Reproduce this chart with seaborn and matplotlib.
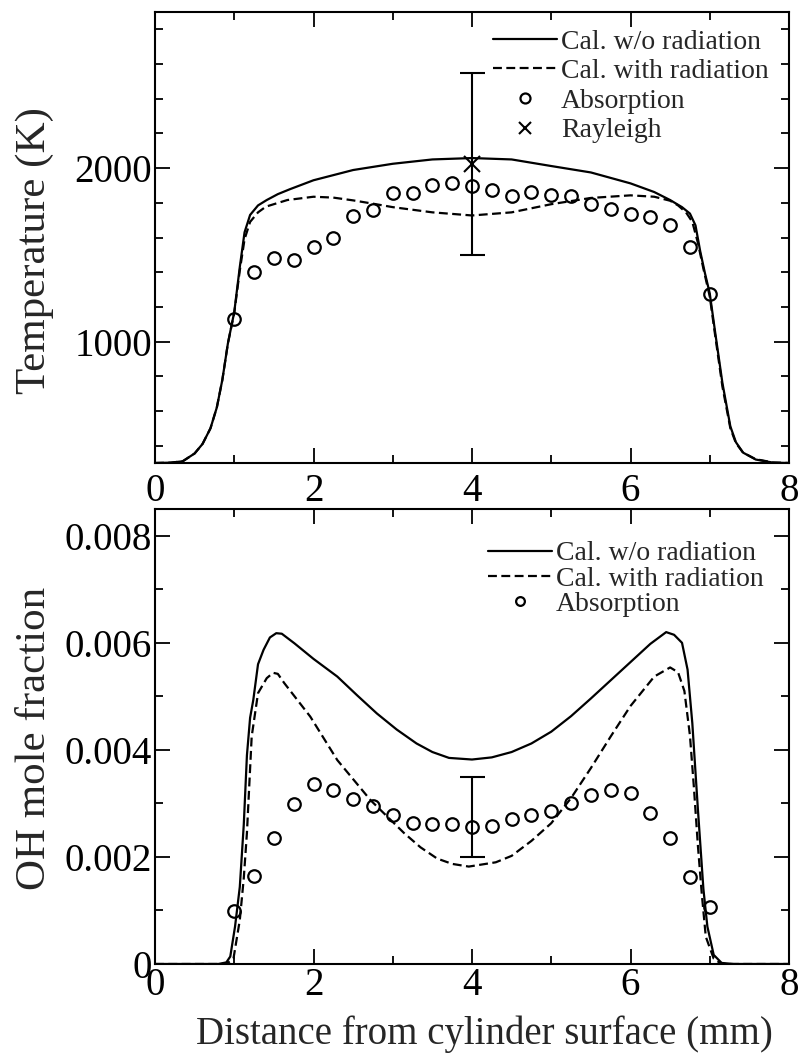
import numpy as np
import matplotlib
matplotlib.use("Agg")
import matplotlib.pyplot as plt
from matplotlib.ticker import MultipleLocator, FixedLocator
import seaborn as sns

# ---- Temperature profiles (K) vs distance from cylinder surface (mm) ----
temp_x_norad = [0.0, 0.2, 0.35, 0.5, 0.6, 0.7, 0.78, 0.85, 0.92, 1.0, 1.07, 1.13,
                1.2, 1.3, 1.41, 1.55, 1.7, 2.0, 2.5, 3.0, 3.5, 4.0, 4.5, 5.0, 5.5,
                6.0, 6.3, 6.5, 6.65, 6.75, 6.82, 6.88, 6.94, 7.0, 7.07, 7.16, 7.26,
                7.33, 7.42, 7.58, 7.8, 8.0]
temp_norad = [300, 302, 310, 355, 410, 500, 620, 780, 990, 1170, 1430, 1630,
              1730, 1785, 1816, 1850, 1878, 1930, 1989, 2025, 2050, 2058, 2050, 2012, 1975,
              1912, 1862, 1816, 1775, 1738, 1670, 1520, 1393, 1278, 1048, 761, 511,
              420, 360, 320, 302, 300]

temp_x_rad = [0.0, 0.2, 0.35, 0.5, 0.6, 0.7, 0.78, 0.85, 0.92, 1.0, 1.07, 1.13,
              1.2, 1.3, 1.4, 1.67, 2.0, 2.25, 2.5, 2.75, 3.0, 3.5, 4.0, 4.5, 5.0,
              5.5, 6.0, 6.3, 6.5, 6.6, 6.7, 6.78, 6.85, 6.92, 7.0, 7.07, 7.16, 7.26,
              7.33, 7.42, 7.58, 7.8, 8.0]
temp_rad = [300, 302, 310, 355, 410, 500, 620, 780, 990, 1165, 1410, 1590,
            1690, 1745, 1778, 1816, 1835, 1830, 1814, 1795, 1775, 1745, 1727, 1745, 1792,
            1828, 1843, 1835, 1812, 1785, 1745, 1690, 1570, 1420, 1260, 1030, 740, 500,
            415, 360, 322, 303, 300]

# Absorption measurements every 0.25 mm
abs_x = [1.0, 1.25, 1.5, 1.75, 2.0, 2.25, 2.5, 2.75, 3.0, 3.25, 3.5, 3.75, 4.0,
         4.25, 4.5, 4.75, 5.0, 5.25, 5.5, 5.75, 6.0, 6.25, 6.5, 6.75, 7.0]
abs_temp = [1128, 1402, 1483, 1469, 1546, 1600, 1722, 1757, 1856, 1856, 1904, 1914, 1898,
            1872, 1841, 1860, 1845, 1837, 1791, 1764, 1738, 1718, 1670, 1546, 1272]

# Rayleigh scattering point with its uncertainty range
ray_x = [4.0]
ray_temp = [2025]
ray_lo = [1500]
ray_hi = [2550]

# ---- OH mole fraction profiles ----
oh_x_norad = [0.0, 0.8, 0.9, 0.95, 1.01, 1.07, 1.12, 1.16, 1.2, 1.24, 1.3, 1.37, 1.45,
              1.53, 1.6, 1.76, 2.0, 2.3, 2.55, 2.8, 3.05, 3.3, 3.5, 3.71, 4.0, 4.25,
              4.5, 4.75, 5.0, 5.25, 5.5, 5.75, 6.0, 6.25, 6.45, 6.55, 6.65, 6.72,
              6.78, 6.85, 6.92, 6.97, 7.05, 7.15, 7.3, 8.0]
oh_norad = [0.0, 0.0, 0.00003, 0.00014, 0.0007, 0.00144, 0.0026, 0.0039, 0.0046, 0.00493,
            0.0056, 0.00587, 0.0061, 0.00618, 0.00617, 0.00599, 0.0057, 0.00537, 0.00502,
            0.00468, 0.00438, 0.00412, 0.00396, 0.00385, 0.00382, 0.00386, 0.00396,
            0.00412, 0.00434, 0.00463, 0.00496, 0.0053, 0.00564, 0.00598, 0.0062,
            0.00615, 0.006, 0.0055, 0.0045, 0.0029, 0.0014, 0.0007, 0.00017, 0.00002,
            0.0, 0.0]

oh_x_rad = [0.0, 0.9, 0.99, 1.07, 1.12, 1.16, 1.22, 1.3, 1.41, 1.49, 1.55, 1.63, 1.96,
            2.3, 2.72, 3.14, 3.35, 3.56, 3.75, 3.96, 4.3, 4.5, 4.75, 5.0, 5.25, 5.5,
            5.75, 6.0, 6.3, 6.5, 6.6, 6.68, 6.75, 6.8, 6.85, 6.9, 6.95, 7.05, 7.15, 8.0]
oh_rad = [0.0, 0.0, 0.0001, 0.00082, 0.0016, 0.00245, 0.00425, 0.00506, 0.00534, 0.00544,
          0.00542, 0.00525, 0.00462, 0.00381, 0.00306, 0.00245, 0.00218, 0.00197,
          0.00187, 0.00182, 0.0019, 0.00202, 0.0023, 0.00263, 0.0031, 0.00366, 0.00425,
          0.00482, 0.00537, 0.00554, 0.00545, 0.0051, 0.00427, 0.0033, 0.00222, 0.0013,
          0.00051, 0.0001, 0.0, 0.0]

abs_oh = [0.00099, 0.00164, 0.00235, 0.00299, 0.00337, 0.00325, 0.00308, 0.00295,
          0.00279, 0.00263, 0.00262, 0.00261, 0.00256, 0.00258, 0.0027, 0.00279,
          0.00286, 0.003, 0.00315, 0.00325, 0.0032, 0.00282, 0.00235, 0.00162, 0.00107]

# Uncertainty range of the OH absorption at the centre
oh_err_x = [4.0]
oh_err_lo = [0.0020]
oh_err_hi = [0.0035]

x_ticks = [0, 2, 4, 6, 8]
temp_ticks = [1000, 2000]
oh_ticks = [0, 0.002, 0.004, 0.006, 0.008]
oh_tick_labels = ["0", "0.002", "0.004", "0.006", "0.008"]

labels = ["Cal. w/o radiation", "Cal. with radiation", "Absorption", "Rayleigh"]
xlabel = "Distance from cylinder surface (mm)"

sns.set_style("ticks")
plt.rcParams["font.family"] = ["Liberation Serif", "DejaVu Serif"]
plt.rcParams["mathtext.fontset"] = "stix"

W, H = 799, 1053
fig = plt.figure(figsize=(W / 100, H / 100), dpi=100)
ax1 = fig.add_axes([155 / W, 1 - 463 / H, 634 / W, 451 / H])
ax2 = fig.add_axes([155 / W, 1 - 964 / H, 634 / W, 455 / H])

LW = 1.6
DASH = (4, 2)
MS = 9.0
TICK_FS = 28
LEG_FS = 20


def style_axes(ax):
    for sp in ax.spines.values():
        sp.set_linewidth(1.5)
        sp.set_color("black")
    ax.tick_params(which="both", direction="in", top=True, right=True,
                   width=1.3, colors="black", labelsize=TICK_FS)
    ax.tick_params(which="major", length=11)
    ax.tick_params(which="minor", length=6)
    ax.tick_params(axis="y", pad=2)
    ax.set_xlim(0, 8)
    ax.xaxis.set_major_locator(FixedLocator(x_ticks))
    ax.xaxis.set_minor_locator(MultipleLocator(1))


# ---------------- Temperature panel ----------------
sns.lineplot(x=temp_x_norad, y=temp_norad, ax=ax1, color="black", lw=LW,
             sort=False, errorbar=None, label=labels[0])
sns.lineplot(x=temp_x_rad, y=temp_rad, ax=ax1, color="black", lw=LW,
             sort=False, errorbar=None, label=labels[1])
ax1.lines[-1].set_dashes(DASH)
sns.lineplot(x=abs_x, y=abs_temp, ax=ax1, color="black", ls="none", marker="o",
             ms=MS, mfc="none", mec="black", mew=1.6, sort=False, errorbar=None,
             label=labels[2])
ray_err = [[ray_temp[0] - ray_lo[0]], [ray_hi[0] - ray_temp[0]]]
ax1.errorbar(ray_x, ray_temp, yerr=ray_err, fmt="none", ecolor="black",
             elinewidth=1.5, capsize=9, capthick=1.5)
sns.lineplot(x=ray_x, y=ray_temp, ax=ax1, color="black", ls="none", marker="x",
             ms=11, mec="black", mew=1.5, sort=False, errorbar=None, label=labels[3])

style_axes(ax1)
ax1.set_ylim(300, 2900)
ax1.yaxis.set_major_locator(FixedLocator(temp_ticks))
ax1.yaxis.set_minor_locator(MultipleLocator(200))
ax1.tick_params(axis="x", pad=7)
ax1.set_xlabel("")
ax1.set_ylabel("Temperature (K)", fontsize=31)
ax1.yaxis.set_label_coords(-0.16, 0.47)

h, l = ax1.get_legend_handles_labels()
leg1 = ax1.legend(h, l, loc="upper right", bbox_to_anchor=(0.968, 0.962),
                  frameon=False, fontsize=LEG_FS, handlelength=2.3,
                  handletextpad=0.15, labelspacing=0.15, borderpad=0,
                  borderaxespad=0, markerscale=0.8)

# ---------------- OH panel ----------------
sns.lineplot(x=oh_x_norad, y=oh_norad, ax=ax2, color="black", lw=LW,
             sort=False, errorbar=None, label=labels[0])
sns.lineplot(x=oh_x_rad, y=oh_rad, ax=ax2, color="black", lw=LW,
             sort=False, errorbar=None, label=labels[1])
ax2.lines[-1].set_dashes(DASH)
sns.lineplot(x=abs_x, y=abs_oh, ax=ax2, color="black", ls="none", marker="o",
             ms=MS, mfc="none", mec="black", mew=1.6, sort=False, errorbar=None,
             label=labels[2])
oh_mid = [(lo + hi) / 2 for lo, hi in zip(oh_err_lo, oh_err_hi)]
oh_half = [(hi - lo) / 2 for lo, hi in zip(oh_err_lo, oh_err_hi)]
ax2.errorbar(oh_err_x, oh_mid, yerr=oh_half, fmt="none", ecolor="black",
             elinewidth=1.5, capsize=9, capthick=1.5)

style_axes(ax2)
ax2.set_ylim(0, 0.0085)
ax2.yaxis.set_major_locator(FixedLocator(oh_ticks))
ax2.set_yticklabels(oh_tick_labels)
ax2.yaxis.set_minor_locator(MultipleLocator(0.001))
ax2.tick_params(axis="x", pad=2)
ax2.set_ylabel("OH mole fraction", fontsize=31)
ax2.yaxis.set_label_coords(-0.16, 0.495)
ax2.set_xlabel(xlabel, fontsize=28)
ax2.xaxis.set_label_coords(0.52, -0.112)

h, l = ax2.get_legend_handles_labels()
leg2 = ax2.legend(h, l, loc="upper right", bbox_to_anchor=(0.96, 0.93),
                  frameon=False, fontsize=LEG_FS, handlelength=2.3,
                  handletextpad=0.15, labelspacing=0.0, borderpad=0,
                  borderaxespad=0, markerscale=0.7)

fig.savefig("out.png", dpi=100)
